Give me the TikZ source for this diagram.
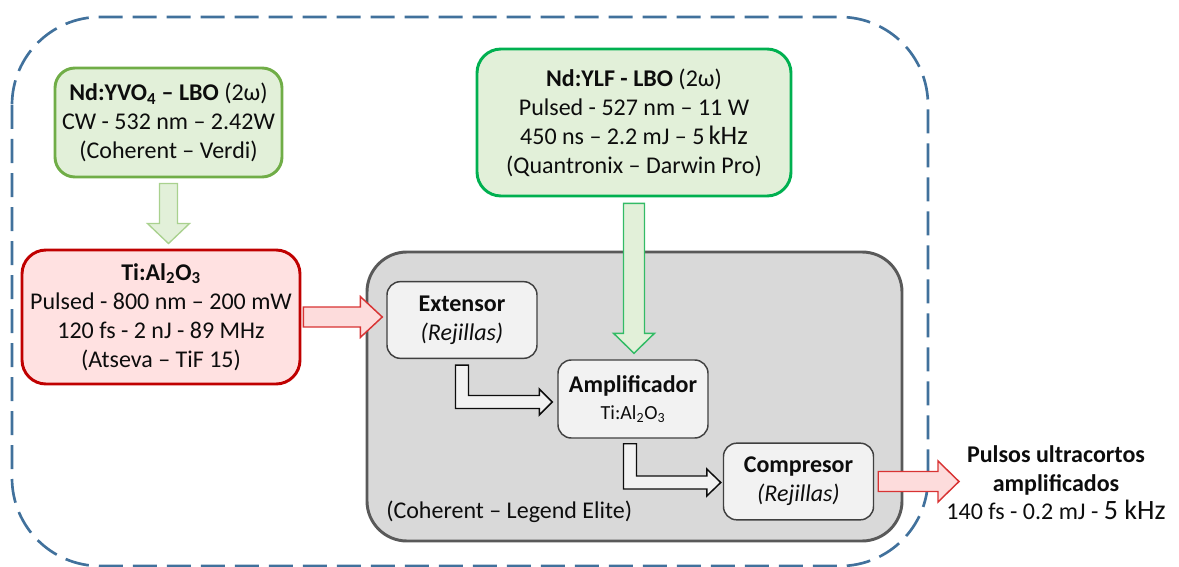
\documentclass[tikz,border=0pt]{standalone}
\usepackage{fontspec}
\setmainfont{Carlito}
\usetikzlibrary{calc}

% one drawing unit = one pixel of the layout grid
\newcommand\pxu{0.75pt}

\definecolor{txt}{HTML}{0D0D0D}
\definecolor{pumpfill}{HTML}{E2F0D9}
\definecolor{pumpedge}{HTML}{70AD47}
\definecolor{pumparrow}{HTML}{A9D18E}
\definecolor{ylfedge}{HTML}{00B050}
\definecolor{ylfarrow}{HTML}{33BB66}
\definecolor{seedfill}{HTML}{FFE1E1}
\definecolor{seededge}{HTML}{C00000}
\definecolor{seedarrow}{HTML}{D83333}
\definecolor{seedarrowfill}{HTML}{FDDCDC}
\definecolor{ampfill}{HTML}{D9D9D9}
\definecolor{ampedge}{HTML}{595959}
\definecolor{stagefill}{HTML}{F2F2F2}
\definecolor{stageedge}{HTML}{404040}
\definecolor{frame}{HTML}{41719C}

% straight block arrow pointing down: style, top point, tip point, half shaft, half head, head length
\newcommand\blkdown[6]{\draw[#1] let \p1=#2, \p2=#3 in
  (\x1-#4*\pxu,\y1) -- (\x1+#4*\pxu,\y1) -- (\x1+#4*\pxu,\y2+#6*\pxu)
  -- (\x1+#5*\pxu,\y2+#6*\pxu) -- (\x1,\y2) -- (\x1-#5*\pxu,\y2+#6*\pxu)
  -- (\x1-#4*\pxu,\y2+#6*\pxu) -- cycle;}
% straight block arrow pointing right
\newcommand\blkright[6]{\draw[#1] let \p1=#2, \p2=#3 in
  (\x1,\y1+#4*\pxu) -- (\x2-#6*\pxu,\y1+#4*\pxu) -- (\x2-#6*\pxu,\y1+#5*\pxu)
  -- (\x2,\y1) -- (\x2-#6*\pxu,\y1-#5*\pxu) -- (\x2-#6*\pxu,\y1-#4*\pxu)
  -- (\x1,\y1-#4*\pxu) -- cycle;}
% bent block arrow: down from the top point, then right to the tip
\newcommand\blkbend[6]{\draw[#1] let \p1=#2, \p2=#3 in
  (\x1-#4*\pxu,\y1) -- (\x1+#4*\pxu,\y1) -- (\x1+#4*\pxu,\y2+#4*\pxu)
  -- (\x2-#6*\pxu,\y2+#4*\pxu) -- (\x2-#6*\pxu,\y2+#5*\pxu) -- (\x2,\y2)
  -- (\x2-#6*\pxu,\y2-#5*\pxu) -- (\x2-#6*\pxu,\y2-#4*\pxu)
  -- (\x1-#4*\pxu,\y2-#4*\pxu) -- cycle;}

\tikzset{
  every node/.style={text=txt},
  lasertext/.style={font=\fontsize{18}{21.75}\selectfont, align=center, inner sep=0pt},
  laserbox/.style={lasertext, draw, line width=2.2pt, rounded corners=#1},
  stagebox/.style={lasertext, draw=stageedge, fill=stagefill, line width=1.1pt,
    rounded corners=10pt, minimum width=112.5pt, minimum height=57.5pt},
  pumpshape/.style={fill=pumpfill, draw=pumparrow, line width=1pt},
  ylfshape/.style={fill=pumpfill, draw=ylfarrow, line width=1.1pt},
  seedshape/.style={fill=seedarrowfill, draw=seedarrow, line width=1.1pt},
  beamshape/.style={fill=stagefill, draw=txt, line width=1.1pt},
}

\begin{document}
\begin{tikzpicture}[x=0.75pt, y=-0.75pt]
\useasboundingbox (0,0) rectangle (1179,567);

% dashed enclosure of the whole laser system
\draw[frame, line width=2pt, dash pattern=on 18pt off 7.5pt, rounded corners=66pt]
  (12,17) rectangle (928,566);

% pump lasers and oscillator
\node[laserbox=15pt, draw=pumpedge, fill=pumpfill, minimum width=170.25pt, minimum height=81.75pt]
  (yvo) at (168.5,122.5)
  {\textbf{Nd:YVO\textsubscript{4} – LBO} (2ω)\\CW - 532 nm – 2.42W\\(Coherent – Verdi)};
\node[laserbox=18pt, draw=seededge, fill=seedfill, minimum width=208.5pt, minimum height=100.5pt]
  (ti) at (161,317)
  {\textbf{Ti:Al\textsubscript{2}O\textsubscript{3}}\\Pulsed - 800 nm – 200 mW\\120 fs - 2 nJ - 89 MHz\\(Atseva – TiF 15)};
\node[laserbox=18pt, draw=ylfedge, fill=pumpfill, minimum width=235.5pt, minimum height=110.25pt]
  (ylf) at (634,122.5)
  {\textbf{Nd:YLF - LBO} (2ω)\\Pulsed - 527 nm – 11 W\\450 ns – 2.2 mJ – 5\,{\fontsize{20}{21.75}\selectfont kHz}\\(Quantronix – Darwin Pro)};

% regenerative amplifier
\node[draw=ampedge, fill=ampfill, line width=2.2pt, rounded corners=30pt,
  minimum width=401.25pt, minimum height=216.75pt, inner sep=0pt]
  (regen) at (634.5,396.5) {};
\node[lasertext, anchor=west] (legend) at (386,512) {(Coherent – Legend Elite)};

\node[stagebox] (ext) at (462,320) {\textbf{Extensor}\\\textit{(Rejillas)}};
\node[stagebox, minimum height=58.5pt] (amp) at (633,399)
  {\textbf{Amplificador}\\[-1pt]{\fontsize{15}{18}\selectfont Ti:Al\textsubscript{2}O\textsubscript{3}}};
\node[stagebox] (comp) at (798.5,481.5) {\textbf{Compresor}\\\textit{(Rejillas)}};

% output beam description
\node[lasertext, font=\fontsize{18}{21.4}\selectfont] (out) at (1056,483)
  {\textbf{Pulsos ultracortos}\\\textbf{amplificados}\\140 fs - 0.2 mJ - {\fontsize{21}{21.4}\selectfont 5 kHz}};
\coordinate (outtip) at (959,482);

% beams
\blkdown{pumpshape}{($(yvo.south)+(0,5)$)}{($(ti.north)+(0,-5)$)}{9}{21}{20}
\blkdown{ylfshape}{($(ylf.south)+(0,6)$)}{($(amp.north)+(0,-6)$)}{10.5}{20.5}{20}
\blkright{seedshape}{($(ti.east)+(2,0)$)}{($(ext.west)+(-4,0)$)}{10}{20.5}{22}
\blkbend{beamshape}{($(ext.south)+(0,6)$)}{($(amp.west)+(-5,3)$)}{6.5}{13}{13}
\blkbend{beamshape}{($(amp.south)+(-3,5)$)}{($(comp.west)+(-2,1)$)}{6.5}{13.5}{14}
\blkright{seedshape}{($(comp.east)+(4,0)$)}{(outtip)}{10}{20.5}{21}
\end{tikzpicture}
\end{document}
